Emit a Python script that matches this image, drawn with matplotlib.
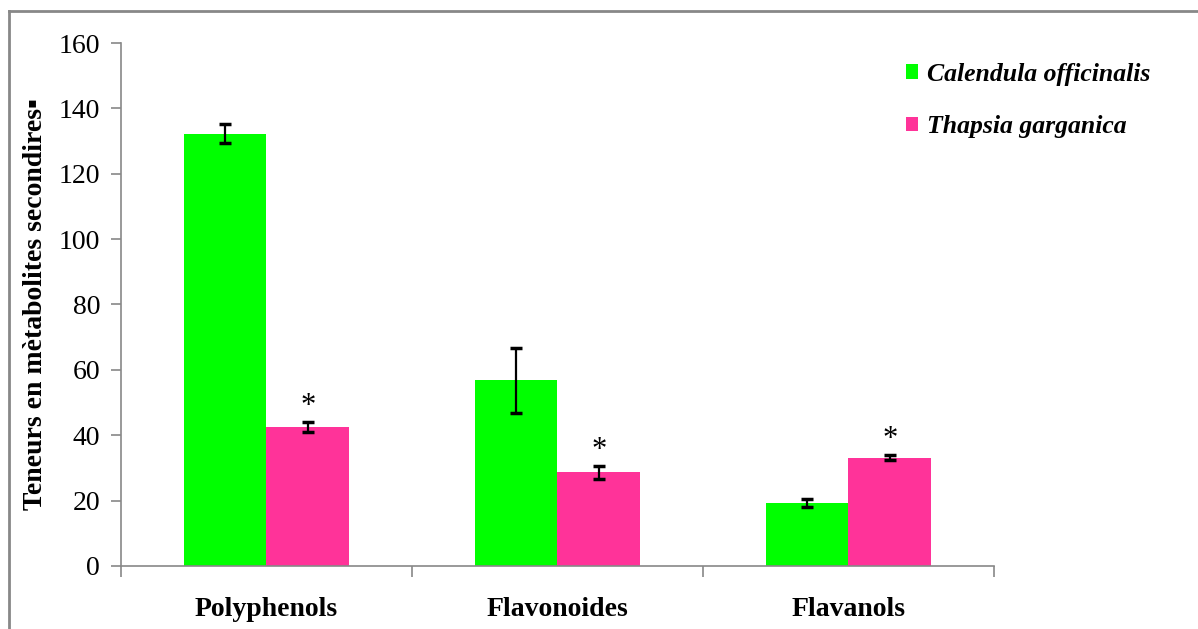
import matplotlib
matplotlib.use("Agg")
import matplotlib.pyplot as plt
from matplotlib.lines import Line2D
import numpy as np

categories = ["Polyphenols", "Flavonoides", "Flavanols"]
series_names = ["Calendula officinalis", "Thapsia garganica"]
calendula = [132.3, 56.8, 19.3]
calendula_err = [3.0, 10.0, 1.2]
thapsia = [42.5, 28.7, 33.1]
thapsia_err = [1.5, 2.0, 0.8]
significant = [True, True, True]
yticks = [0, 20, 40, 60, 80, 100, 120, 140, 160]

green = "#00FF00"
pink = "#FF3399"
serif = ["Liberation Serif", "DejaVu Serif"]

fig = plt.figure(figsize=(11.98, 6.29), dpi=100)
ax = fig.add_axes([0.101, 0.1002, 0.7287, 0.8314])

x = np.arange(len(categories))
w = 0.285
ax.bar(x - w / 2, calendula, width=w, color=green, label=series_names[0], zorder=2)
ax.bar(x + w / 2, thapsia, width=w, color=pink, label=series_names[1], zorder=2)
ax.errorbar(x - w / 2, calendula, yerr=calendula_err, fmt="none", ecolor="black",
            elinewidth=1.6, capsize=4.5, capthick=2.5, zorder=3)
ax.errorbar(x + w / 2, thapsia, yerr=thapsia_err, fmt="none", ecolor="black",
            elinewidth=1.6, capsize=4.5, capthick=2.5, zorder=3)
for xi, v, e, s in zip(x, thapsia, thapsia_err, significant):
    if s:
        ax.text(xi + w / 2, v + e + 0.3, "*", ha="center", va="bottom",
                fontsize=22, family=serif)

ax.set_xlim(-0.5, len(categories) - 0.5)
ax.set_ylim(0, 160)
ax.set_yticks(yticks)
ax.set_yticklabels([str(t) for t in yticks], fontsize=20, family=serif)
ax.set_xticks(x)
ax.set_xticklabels(categories, fontsize=20, fontweight="bold", family=serif)
ax.tick_params(axis="x", which="major", length=0, pad=22)
ax.set_xticks(np.arange(len(categories) + 1) - 0.5, minor=True)
ax.tick_params(axis="x", which="minor", length=8, color="#888888", width=1.2, direction="out")
ax.tick_params(axis="y", length=7, color="#888888", width=1.2, direction="out", pad=8)

for sp in ["top", "right"]:
    ax.spines[sp].set_visible(False)
for sp in ["left", "bottom"]:
    ax.spines[sp].set_color("#888888")
    ax.spines[sp].set_linewidth(1.2)

ax.set_ylabel("Teneurs en mètabolites secondires\u25AA", fontsize=20, fontweight="bold",
              family=serif, labelpad=8)

leg = fig.legend(loc="upper left", bbox_to_anchor=(0.737, 0.937), frameon=False,
                 prop={"family": serif, "style": "italic", "weight": "bold", "size": 18.5},
                 handlelength=0.48, handleheight=0.48, handletextpad=0.35, labelspacing=1.15)

# outer frame lines (left and top)
fig.add_artist(Line2D([9 / 1198, 9 / 1198], [0, 1 - 11 / 629], transform=fig.transFigure,
                      color="#888888", linewidth=2))
fig.add_artist(Line2D([9 / 1198, 1], [1 - 11 / 629, 1 - 11 / 629], transform=fig.transFigure,
                      color="#888888", linewidth=2))

fig.savefig("out.png", dpi=100)
